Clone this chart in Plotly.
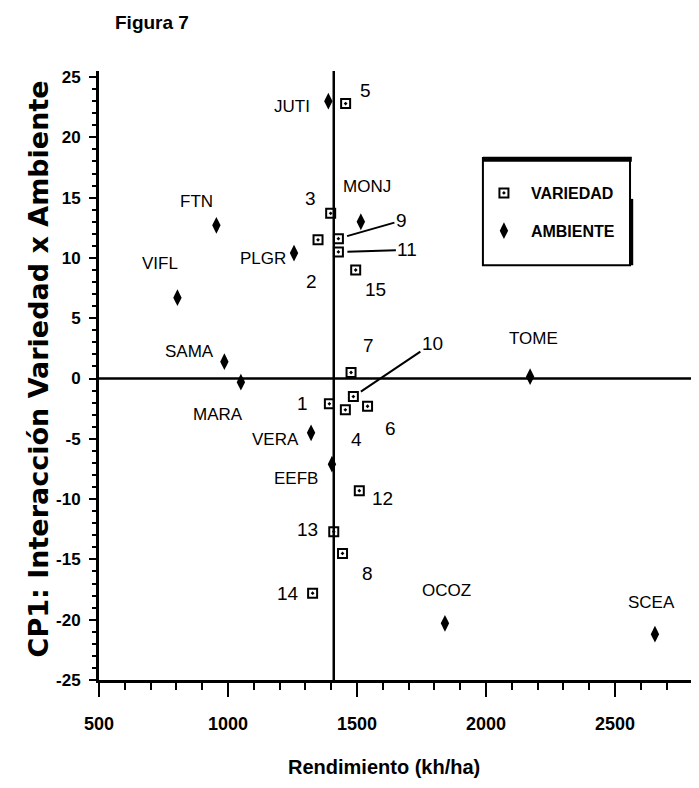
import plotly.graph_objects as go

# ---------------- data ----------------
variety_labels = ["1", "2", "3", "4", "5", "6", "7", "8", "9", "10", "11", "12", "13", "14", "15"]
variety_yield = [1393, 1349, 1398, 1455, 1456, 1541, 1477, 1444, 1428, 1486, 1428, 1509, 1410, 1328, 1495]
variety_cp1 = [-2.1, 11.5, 13.7, -2.6, 22.8, -2.3, 0.5, -14.5, 11.6, -1.5, 10.5, -9.3, -12.7, -17.8, 9.0]

env_labels = ["JUTI", "FTN", "VIFL", "PLGR", "MONJ", "SAMA", "MARA", "VERA", "EEFB", "TOME", "OCOZ", "SCEA"]
env_yield = [1389, 955, 804, 1256, 1515, 986, 1050, 1322, 1403, 2171, 1841, 2655]
env_cp1 = [23.0, 12.7, 6.7, 10.4, 13.0, 1.4, -0.3, -4.5, -7.1, 0.15, -20.3, -21.2]

mean_yield = 1410
cp1_origin = 0

x_ticks = [500, 1000, 1500, 2000, 2500]
y_ticks = [-25, -20, -15, -10, -5, 0, 5, 10, 15, 20, 25]
y_tick_text = ["-25", "-20", "-15", "-10", "-5", "0", "5", "10", "15", "20", "25"]

# ---------------- label placement (pixel offsets: dx, dy-down) ----------------
variety_offsets = {
    "1": (-27, 0), "2": (-7, 42), "3": (-20, -15), "4": (11, 30), "5": (20, -13),
    "6": (23, 22), "7": (17, -27), "8": (25, 20), "12": (23, 8), "13": (-26, -2),
    "14": (-25, 0), "15": (20, 20),
}
variety_leaders = {"9": (63, -18), "10": (79, -53), "11": (69, -2)}
env_offsets = {
    "JUTI": (-36, 5), "FTN": (-20, -24), "VIFL": (-17, -34), "PLGR": (-31, 5),
    "MONJ": (6, -35), "SAMA": (-35, -10), "MARA": (-23, 32), "VERA": (-36, 7),
    "EEFB": (-36, 14), "TOME": (3, -38), "OCOZ": (2, -33), "SCEA": (-3, -32),
}

SANS = "Liberation Sans, Arial, sans-serif"
WIDE = "DejaVu Sans, Verdana, sans-serif"
XR = [500, 2818]
YR = [-25, 25.5]

fig = go.Figure()

fig.add_trace(go.Scatter(
    x=variety_yield, y=variety_cp1, mode="markers", name="VARIEDAD",
    legendgroup="v",
    marker=dict(symbol="square-open-dot", size=9, color="black", line=dict(color="black", width=2)),
    hoverinfo="text", text=variety_labels,
))
fig.add_trace(go.Scatter(
    x=env_yield, y=env_cp1, mode="markers", name="AMBIENTE",
    legendgroup="e",
    marker=dict(symbol="diamond-tall", size=12, color="black"),
    hoverinfo="text", text=env_labels,
))

label_font_num = dict(family=SANS, size=19, color="black")
label_font_env = dict(family=SANS, size=17, color="black")

annotations = []
for lab, xv, yv in zip(variety_labels, variety_yield, variety_cp1):
    if lab in variety_offsets:
        dx, dy = variety_offsets[lab]
        annotations.append(dict(x=xv, y=yv, text=lab, showarrow=False, xshift=dx, yshift=-dy,
                                font=label_font_num))
    elif lab in variety_leaders:
        ax, ay = variety_leaders[lab]
        annotations.append(dict(x=xv, y=yv, text=lab, showarrow=True, arrowhead=0, arrowwidth=2,
                                arrowcolor="black", ax=ax, ay=ay, standoff=9,
                                font=label_font_num))
for lab, xv, yv in zip(env_labels, env_yield, env_cp1):
    dx, dy = env_offsets[lab]
    annotations.append(dict(x=xv, y=yv, text=lab, showarrow=False, xshift=dx, yshift=-dy,
                            font=label_font_env))

# titles
annotations.append(dict(xref="paper", yref="paper", x=-0.102, y=0.51, xanchor="center", yanchor="middle",
                        text="<b>CP1: Interacción Variedad x Ambiente</b>",
                        textangle=-90, showarrow=False, font=dict(family=WIDE, size=27, color="black")))
annotations.append(dict(xref="paper", yref="paper", x=0.477, y=-0.143, xanchor="center", yanchor="middle",
                        text="<b>Rendimiento (kh/ha)</b>", showarrow=False,
                        font=dict(family=SANS, size=20, color="black")))
annotations.append(dict(xref="paper", yref="paper", x=0.023, y=1.0, xanchor="left", yanchor="middle",
                        yshift=49,
                        text="<b>Figura 7</b>", showarrow=False,
                        font=dict(family=SANS, size=19, color="black")))

shapes = [
    dict(type="line", xref="x", yref="y", x0=mean_yield, x1=mean_yield, y0=YR[0], y1=YR[1],
         line=dict(color="black", width=2.5)),
    dict(type="line", xref="x", yref="y", x0=XR[0], x1=XR[1], y0=cp1_origin, y1=cp1_origin,
         line=dict(color="black", width=2.5)),
    # legend frame
    dict(type="rect", xref="paper", yref="paper", x0=0.642, x1=0.888, y0=0.681, y1=0.857,
         line=dict(color="black", width=2), fillcolor="rgba(0,0,0,0)"),
    dict(type="line", xref="paper", yref="paper", x0=0.642, x1=0.891, y0=0.855, y1=0.855,
         line=dict(color="black", width=5)),
    dict(type="line", xref="paper", yref="paper", x0=0.890, x1=0.890, y0=0.681, y1=0.79,
         line=dict(color="black", width=4)),
]

fig.update_layout(
    width=691, height=780,
    margin=dict(l=91, r=2, t=63, b=108),
    paper_bgcolor="white", plot_bgcolor="white",
    showlegend=True,
    legend=dict(x=0.632, y=0.8276, xanchor="left", yanchor="top", bgcolor="rgba(0,0,0,0)",
                borderwidth=0, tracegroupgap=14, traceorder="grouped", itemwidth=44,
                font=dict(family=SANS, size=16, color="black", weight="bold")),
    annotations=annotations,
    shapes=shapes,
)

fig.update_xaxes(
    range=XR, tickvals=x_ticks, ticktext=[str(v) for v in x_ticks],
    showgrid=False, zeroline=False, showline=True, linecolor="black", linewidth=3,
    ticks="outside", ticklen=14, tickwidth=2, tickcolor="black",
    minor=dict(ticks="outside", ticklen=7, tickwidth=2, tickcolor="black", dtick=100, showgrid=False),
    tickfont=dict(family=SANS, size=18, color="black", weight="bold"),
    ticklabelstandoff=11,
)
fig.update_yaxes(
    range=YR, tickvals=y_ticks, ticktext=y_tick_text,
    showgrid=False, zeroline=False, showline=True, linecolor="black", linewidth=3,
    ticks="outside", ticklen=7, tickwidth=2, tickcolor="black",
    minor=dict(ticks="outside", ticklen=4, tickwidth=2, tickcolor="black", dtick=1, showgrid=False),
    tickfont=dict(family=SANS, size=17, color="black", weight="bold"),
    ticklabelstandoff=5,
)

fig.write_html("out.html")
